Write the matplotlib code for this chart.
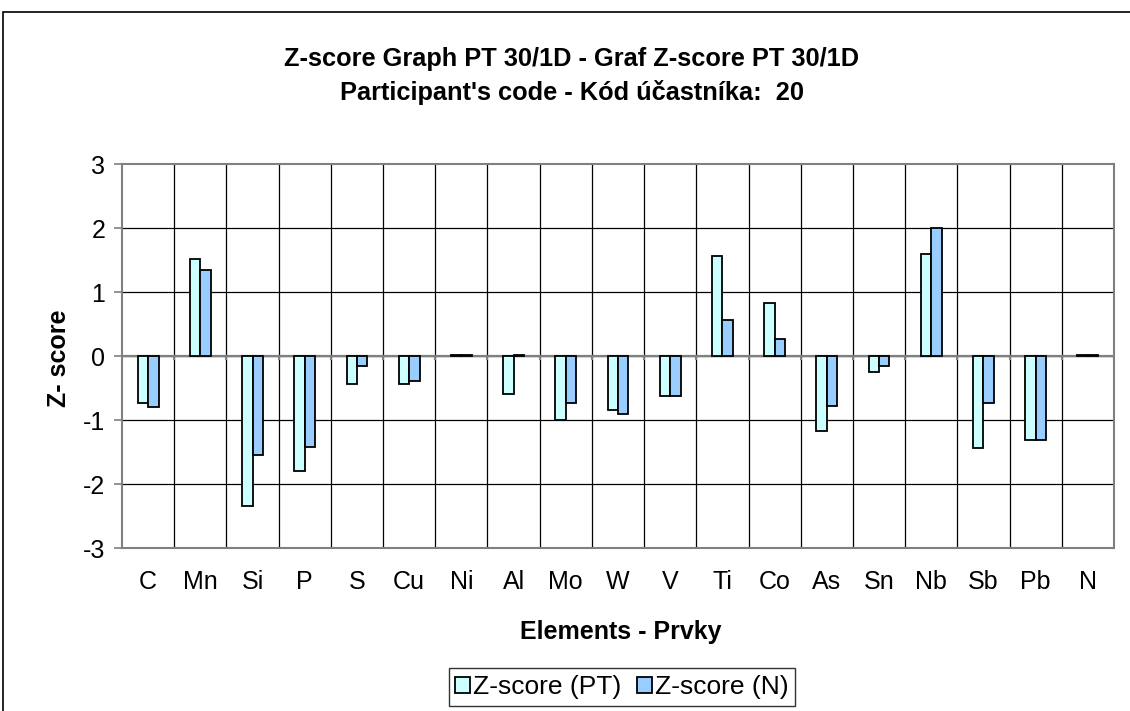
import numpy as np
import matplotlib.pyplot as plt
from matplotlib.patches import Rectangle

plt.rcParams['font.family'] = ['Liberation Sans', 'DejaVu Sans']
plt.rcParams['axes.unicode_minus'] = False

elements = ['C', 'Mn', 'Si', 'P', 'S', 'Cu', 'Ni', 'Al', 'Mo', 'W',
            'V', 'Ti', 'Co', 'As', 'Sn', 'Nb', 'Sb', 'Pb', 'N']
z_pt = [-0.73, 1.51, -2.34, -1.80, -0.43, -0.43, 0.02, -0.59, -1.00, -0.84,
        -0.62, 1.56, 0.83, -1.17, -0.25, 1.60, -1.43, -1.32, 0.02]
z_n = [-0.80, 1.34, -1.55, -1.42, -0.16, -0.39, 0.02, 0.01, -0.73, -0.91,
       -0.62, 0.56, 0.26, -0.78, -0.15, 2.00, -0.74, -1.32, 0.02]

FS = 18
W, H = 1130, 711
fig = plt.figure(figsize=(W / 100, H / 100), dpi=100)
ax = fig.add_axes([122 / W, 1 - 548 / H, 992 / W, 384 / H])

x = np.arange(len(elements))
bw = 0.2
ax.bar(x - bw / 2, z_pt, bw, color='#CCFFFF', edgecolor='black', linewidth=1.3,
       label='Z-score (PT)', zorder=3)
ax.bar(x + bw / 2, z_n, bw, color='#99CCFF', edgecolor='black', linewidth=1.3,
       label='Z-score (N)', zorder=3)

ax.set_xlim(-0.5, len(elements) - 0.5)
ax.set_ylim(-3, 3)
ax.set_yticks(range(-3, 4))
ax.set_xticks(x)
ax.set_xticklabels(elements)
ax.tick_params(axis='x', length=0, pad=16, labelsize=FS)
ax.tick_params(axis='y', length=6, width=1.2, color='#808080', pad=6, labelsize=FS)

# horizontal gridlines and category separators
for yv in range(-2, 3):
    ax.axhline(yv, color='black', lw=0.9, zorder=1)
for xv in np.arange(0.5, len(elements) - 0.5, 1):
    ax.axvline(xv, color='black', lw=0.9, zorder=1)
ax.axhline(0, color='#808080', lw=1.6, zorder=2)
ax.vlines(np.arange(-0.5, len(elements), 1), -0.06, 0, color='#808080', lw=1.5, zorder=2)

for s in ax.spines.values():
    s.set_color('#808080')
    s.set_linewidth(1.5)

fig.text(59 / W, 1 - 358 / H, 'Z- score', rotation=90, ha='center', va='center',
         fontsize=FS, fontweight='bold')
fig.text(621 / W, 1 - 639 / H, 'Elements - Prvky', ha='center', va='baseline',
         fontsize=FS, fontweight='bold')

fig.text(572 / W, 1 - 66 / H, 'Z-score Graph PT 30/1D - Graf Z-score PT 30/1D',
         ha='center', va='baseline', fontsize=18.3, fontweight='bold')
fig.text(572 / W, 1 - 100 / H, "Participant's code - Kód účastníka:  20",
         ha='center', va='baseline', fontsize=18.3, fontweight='bold')

leg = fig.legend(loc='center', bbox_to_anchor=(622 / W, 1 - 687 / H), ncol=2,
                 fontsize=19, frameon=True, fancybox=False, handlelength=0.55,
                 handleheight=0.55, handletextpad=0.12, columnspacing=0.6,
                 borderpad=0.25, borderaxespad=0)
leg.get_frame().set_edgecolor('black')
leg.get_frame().set_linewidth(1.0)

fig.patches.append(Rectangle((3 / W, -0.05), 1.1, 1 - 12 / H + 0.05,
                             transform=fig.transFigure, fill=False,
                             edgecolor='black', lw=1.2, zorder=0))

fig.savefig('out.png', dpi=100)
